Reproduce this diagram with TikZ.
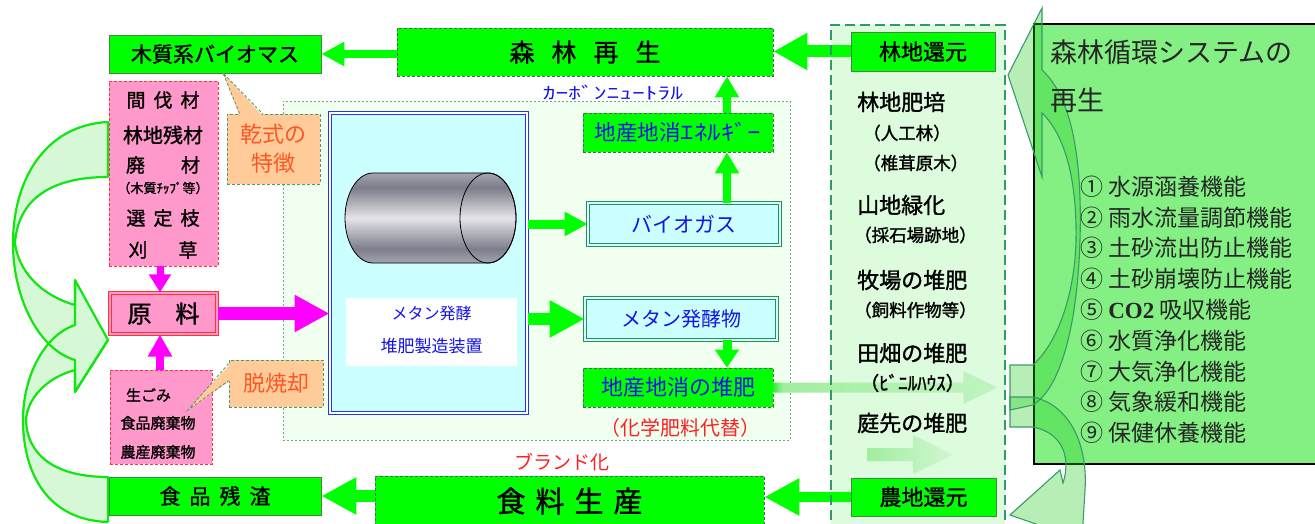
\documentclass[tikz,border=0pt]{standalone}
\usepackage{fontspec}
\usepackage{graphicx}
\setmainfont{Noto Sans CJK JP}
\newfontfamily\gothic{Noto Sans CJK JP}[FakeBold=1.4]
\newfontfamily\latinserif{Liberation Serif}
\usetikzlibrary{arrows.meta,calc}

\newcommand\fsz[1]{\fontsize{#1pt}{#1pt}\selectfont}

\definecolor{leaf}{HTML}{00FF00}
\definecolor{leafedge}{HTML}{3C8C3C}
\definecolor{dashedge}{HTML}{3F6F4F}
\definecolor{pinkfill}{HTML}{FF99CC}
\definecolor{pinkedge}{HTML}{FF3333}
\definecolor{peach}{HTML}{FFCC99}
\definecolor{calloutedge}{HTML}{4A9A70}
\definecolor{warm}{HTML}{FF5522}
\definecolor{ink}{HTML}{1414E6}
\definecolor{alert}{HTML}{FF2020}
\definecolor{aqua}{HTML}{CCFFFF}
\definecolor{plum}{HTML}{FF00FF}
\definecolor{zonefill}{HTML}{F0FFF0}
\definecolor{zoneedge}{HTML}{66AA88}
\definecolor{colfill}{HTML}{DDFBDD}
\definecolor{coledge}{HTML}{339966}
\definecolor{panel}{HTML}{84F084}
\definecolor{swirl}{HTML}{D6F8D6}
\definecolor{swirledge}{HTML}{11E611}
\definecolor{ribbon}{HTML}{22CC22}
\definecolor{ribbonedge}{HTML}{3A9A6A}
\definecolor{tealedge}{HTML}{2E8B57}
\definecolor{appedge}{HTML}{2233FF}
\definecolor{drumA}{HTML}{A5A5AD}
\definecolor{drumB}{HTML}{D5D5DA}
\definecolor{drumC}{HTML}{7E7E8C}
\definecolor{drumD}{HTML}{E4E4E8}
\definecolor{drumE}{HTML}{7C7C8A}
\definecolor{drumF}{HTML}{E8E8EC}
\definecolor{drumG}{HTML}{CDCDD2}
\definecolor{fadeA}{HTML}{B5F5B5}
\definecolor{fadeB}{HTML}{33EE33}
\definecolor{fadeC}{HTML}{A0EEA0}
\definecolor{fadeD}{HTML}{D2F6D2}

% metal drum of the fermenter
\pgfdeclareverticalshading{drum}{100bp}{color(0bp)=(drumA); color(15bp)=(drumB);
  color(33bp)=(drumC); color(50bp)=(drumD); color(67bp)=(drumE);
  color(88bp)=(drumF); color(100bp)=(drumG)}
% compost arrow fading into the field column
\pgfdeclarehorizontalshading{fade}{100bp}{color(0bp)=(fadeA); color(12bp)=(fadeB);
  color(25bp)=(fadeB); color(27bp)=(fadeC); color(100bp)=(fadeD)}

\tikzset{
  solidbox/.style={draw=leafedge, line width=0.8pt, fill=leaf, inner sep=0pt},
  dashbox/.style={draw=dashedge, dash pattern=on 3pt off 2pt, line width=0.7pt, fill=leaf, inner sep=0pt},
  pinkbox/.style={draw=pinkedge, dash pattern=on 3pt off 2pt, line width=0.8pt, fill=pinkfill, inner sep=0pt},
  calloutbox/.style={draw=calloutedge, dash pattern=on 3pt off 2pt, line width=0.8pt, fill=peach,
    inner sep=0pt, text=warm, font=\fontsize{22pt}{29pt}\selectfont, align=center},
  calloutline/.style={draw=calloutedge, dash pattern=on 3pt off 2pt, line width=0.8pt},
  aquabox/.style={draw=tealedge, double=aqua, double distance=1.6pt, line width=0.8pt, fill=aqua,
    inner sep=0pt, text=ink},
  label/.style={inner sep=0pt},
  ribbonfill/.style={fill=ribbon, fill opacity=0.33},
  ribbonline/.style={draw=ribbonedge, line width=1.1pt},
  swirlline/.style={draw=swirledge, line width=2.2pt, line join=round},
}

\begin{document}
\begin{tikzpicture}[x=1pt,y=-1pt]
\useasboundingbox (0,0) rectangle (1315,524);
\clip (0,0) rectangle (1315,524);

% ---- background areas ----
\node[draw=zoneedge, dash pattern=on 2pt off 2pt, line width=0.7pt, fill=zonefill,
  minimum width=507pt, minimum height=339pt, inner sep=0pt] (zone) at (536.5,270.5) {};
\node[fill=colfill, minimum width=174pt, minimum height=510pt, inner sep=0pt] (column) at (918,280) {};
\node[draw=black, line width=1.8pt, fill=panel, minimum width=290pt, minimum height=440pt,
  inner sep=0pt, anchor=north west] (panel) at (1033,23) {};

% ---- twisted return arrows on the right ----
\path[ribbonfill] (1042,70) .. controls (1075,100) and (1082,170) .. (1080,240)
  .. controls (1078,310) and (1065,385) .. (1033,405) -- (1010,410) -- (1010,365) -- (1033,365)
  .. controls (1060,340) and (1075,290) .. (1076,240) .. controls (1077,180) and (1065,135) .. (1042,113)
  -- (1042,177) -- (1008,75) -- (1042,8) -- cycle;
\path[ribbonfill] (1010,397) -- (1033,397) .. controls (1070,405) and (1088,445) .. (1085,490)
  -- (1082,540) -- (1010,515) -- (1060,470) -- (1063,483)
  .. controls (1072,455) and (1060,432) .. (1033,427) -- (1010,427) -- cycle;
\draw[ribbonline] (1042,70) .. controls (1075,100) and (1082,170) .. (1080,240)
  .. controls (1078,310) and (1065,385) .. (1033,405) -- (1010,410) -- (1010,365) -- (1033,365)
  .. controls (1060,340) and (1075,290) .. (1076,240) .. controls (1077,180) and (1065,135) .. (1042,113)
  -- (1042,177) -- (1008,75) -- (1042,8) -- cycle;
\draw[ribbonline] (1010,397) -- (1033,397) .. controls (1070,405) and (1088,445) .. (1085,490)
  -- (1082,540) -- (1010,515) -- (1060,470) -- (1063,483)
  .. controls (1072,455) and (1060,432) .. (1033,427) -- (1010,427) -- cycle;

% ---- twisted feed arrows on the left ----
\fill[swirl] (108,122) .. controls (45,125) and (13,180) .. (13,243) .. controls (13,300) and (40,350) .. (75,360)
  -- (75,392) -- (108,340) -- (75,280) -- (75,305)
  .. controls (40,295) and (18,270) .. (15,243) .. controls (18,200) and (50,177) .. (108,177) -- cycle;
\fill[swirl] (108,522) .. controls (45,520) and (23,470) .. (23,420) .. controls (23,375) and (45,335) .. (75,325)
  -- (75,280) -- (108,340) -- (75,392) -- (75,370)
  .. controls (45,378) and (27,400) .. (26,420) .. controls (27,455) and (55,477) .. (108,477) -- cycle;
\draw[swirlline] (108,122) .. controls (45,125) and (13,180) .. (13,243) .. controls (13,300) and (40,350) .. (75,360)
  -- (75,392) -- (108,340) -- (75,280) -- (75,305)
  .. controls (40,295) and (18,270) .. (15,243) .. controls (18,200) and (50,177) .. (108,177) -- cycle;
\draw[swirlline] (108,522) .. controls (45,520) and (23,470) .. (23,420) .. controls (23,375) and (45,335) .. (75,325)
  -- (75,280) (108,340) -- (75,392) -- (75,370)
  .. controls (45,378) and (27,400) .. (26,420) .. controls (27,455) and (55,477) .. (108,477) -- (108,522);

% ---- top row ----
\node[solidbox, minimum width=212pt, minimum height=38pt, font=\gothic\fsz{21}] (moku) at (215,54) {木質系バイオマス};
\node[dashbox, minimum width=376pt, minimum height=48pt, font=\gothic\fsz{25}] (shinrin) at (585,52)
  {森\hspace{17pt}林\hspace{17pt}再\hspace{17pt}生};
\node[solidbox, minimum width=144pt, minimum height=39pt, font=\gothic\fsz{22}] (rinchi) at (923,51.5) {林地還元};

% ---- raw material column ----
\node[pinkbox, minimum width=109pt, minimum height=185pt] (wood) at (163.5,173.5) {};
\begin{scope}[every node/.append style={label}]
\node[font=\gothic\fsz{19}] (w1) at (163,100) {間\hspace{8pt}伐\hspace{8pt}材};
\node[font=\gothic\fsz{20}] (w2) at (163,135) {林地残材};
\node[font=\gothic\fsz{19}] (w3) at (163,165) {廃\hspace{36pt}材};
\node[font=\gothic\fsz{13}] (w4) at (163,188) {（木質ﾁｯﾌﾟ等）};
\node[font=\gothic\fsz{19}] (w5) at (163,218) {選\hspace{8pt}定\hspace{8pt}枝};
\node[font=\gothic\fsz{19}] (w6) at (163,250) {刈\hspace{31pt}草};
\end{scope}

\node[draw=pinkedge, double=pinkfill, double distance=1.5pt, line width=1.1pt, fill=pinkfill,
  minimum width=107pt, minimum height=41pt, inner sep=0pt, font=\gothic\fsz{24}] (genryo) at (163.5,313.5)
  {原\hspace{24pt}料};

\node[pinkbox, minimum width=102pt, minimum height=94pt] (waste) at (161,417) {};
\node[label, font=\gothic\fsz{15}] (v1) at (148.5,395) {生ごみ};
\node[label, font=\gothic\fsz{15}] (v2) at (158,423) {食品廃棄物};
\node[label, font=\gothic\fsz{15}] (v3) at (158,452) {農産廃棄物};

% ---- callouts ----
\node[calloutbox, minimum width=93pt, minimum height=70pt] (dry) at (273.5,149) {乾式の\\特徴};
\fill[peach] ($(dry.north west)+(13,2)$) -- (223,73) -- ($(dry.north west)+(36,2)$) -- cycle;
\draw[calloutline] ($(dry.north west)+(13,0)$) -- (223,73) -- ($(dry.north west)+(36,0)$);

\node[calloutbox, minimum width=94pt, minimum height=47pt] (noburn) at (276,383.5) {脱焼却};
\fill[peach] ($(noburn.north west)+(2,4)$) -- (188,410) -- ($(noburn.north west)+(2,21)$) -- cycle;
\draw[calloutline] ($(noburn.north west)+(0,4)$) -- (188,410) -- ($(noburn.north west)+(0,21)$);

% ---- fermenter ----
\node[label, text=ink, font=\fsz{17}] (carbon) at (613,93) {\scalebox{1.5}[1]{ｶｰﾎﾞﾝﾆｭｰﾄﾗﾙ}};
\node[draw=appedge, double=white, double distance=1.5pt, line width=1pt, fill=aqua,
  minimum width=197pt, minimum height=300pt, inner sep=0pt] (app) at (428.5,263) {};
\shade[shading=drum, draw=black, line width=0.8pt]
  (373,263) arc[start angle=90, end angle=270, x radius=28, y radius=45] -- (488,173)
  arc[start angle=270, end angle=450, x radius=28, y radius=45] -- cycle;
\draw[black, line width=0.8pt] (488,218) ellipse [x radius=28, y radius=45];
\node[fill=white, minimum width=171pt, minimum height=68pt, inner sep=0pt] (plate) at (431.5,332) {};
\node[label, text=ink, font=\fsz{16}] (plateA) at (431.5,313) {メタン発酵};
\node[label, text=ink, font=\fsz{17}] (plateB) at (431.5,346) {堆肥製造装置};

% ---- products ----
\node[dashbox, minimum width=190pt, minimum height=39pt, text=ink, font=\fsz{21.5}] (energy) at (678,132.5)
  {地産地消\scalebox{1.25}[1]{ｴﾈﾙｷﾞｰ}};
\node[aquabox, minimum width=192pt, minimum height=42pt, font=\fsz{21}] (biogas) at (684,224) {バイオガス};
\node[aquabox, minimum width=192pt, minimum height=42pt, font=\fsz{20}] (methane) at (681,319) {メタン発酵物};
\node[dashbox, minimum width=190pt, minimum height=39pt, text=ink, font=\fsz{22}] (taihi) at (678,387.5) {地産地消の堆肥};
\node[label, text=alert, font=\fsz{20}] (kagaku) at (680,428) {（化学肥料代替）};
\node[label, text=alert, font=\fsz{19}] (brand) at (562,462) {ブランド化};

% ---- bottom row ----
\node[solidbox, minimum width=212pt, minimum height=38pt, font=\gothic\fsz{21}] (zanshi) at (215,496)
  {食\hspace{9pt}品\hspace{9pt}残\hspace{9pt}渣};
\node[dashbox, minimum width=389pt, minimum height=50pt, font=\gothic\fsz{29}] (shokuryo) at (569.5,501)
  {食\hspace{10pt}料\hspace{10pt}生\hspace{10pt}産};
\node[solidbox, minimum width=145pt, minimum height=38pt, font=\gothic\fsz{22}] (nouchi) at (923.5,497) {農地還元};

% ---- compost spreading arrows ----
\shade[shading=fade] ($(taihi.east)+(0,-5)$) -- ++(190,0) -- ++(0,-11.5) -- ++(34,16.5) -- ++(-34,16.5)
  -- ++(0,-11.5) -- ($(taihi.east)+(0,5)$) -- cycle;
\shade[left color=fadeC, right color=fadeD] (867,448) -- (913,448) -- (913,435) -- (953,455)
  -- (913,474) -- (913,461) -- (867,461) -- cycle;

% ---- flow arrows ----
\coordinate (upx) at (727,0);
\coordinate (dnx) at (160,0);
\draw[leaf, line width=12pt, -{Triangle[length=34pt,width=35pt]}] (rinchi.west) -- (shinrin.east |- rinchi.west);
\draw[leaf, line width=8pt, -{Triangle[length=23pt,width=23pt]}] (shinrin.west |- moku.east) -- (moku.east);
\draw[leaf, line width=12pt, -{Triangle[length=35pt,width=35pt]}] (shokuryo.west |- zanshi.east) -- (zanshi.east);
\draw[leaf, line width=10pt, -{Triangle[length=35pt,width=35pt]}] (nouchi.west) -- (shokuryo.east |- nouchi.west);
\draw[leaf, line width=9pt, -{Triangle[length=23pt,width=23pt]}] (app.east |- biogas.west) -- (biogas.west);
\draw[leaf, line width=12pt, -{Triangle[length=35pt,width=35pt]}] (app.east |- methane.west) -- (methane.west);
\draw[leaf, line width=8pt, -{Triangle[length=21pt,width=23pt]}] (biogas.north -| upx) -- (energy.south -| upx);
\draw[leaf, line width=8pt, -{Triangle[length=21pt,width=23pt]}] (energy.north -| upx) -- (shinrin.south -| upx);
\draw[leaf, line width=9pt, -{Triangle[length=18pt,width=23pt]}] (methane.south -| upx) -- (taihi.north -| upx);
\draw[plum, line width=13pt, -{Triangle[length=35pt,width=35pt]}] (genryo.east) -- (app.west |- genryo.east);
\draw[plum, line width=7pt, -{Triangle[length=18pt,width=21pt]}] (wood.south -| dnx) -- (genryo.north -| dnx);
\draw[plum, line width=8pt, -{Triangle[length=22pt,width=23pt]}] (waste.north -| dnx) -- (genryo.south -| dnx);

% ---- field column ----
\draw[coledge, line width=2.5pt, dash pattern=on 10pt off 5pt] (column.south west) rectangle (column.north east);
\begin{scope}[every node/.append style={label, anchor=west}]
\node[font=\gothic\fsz{22}] (r1) at (857,102) {林地肥培};
\node[font=\gothic\fsz{17.5}] (r2) at (863,133) {（人工林）};
\node[font=\gothic\fsz{17.5}] (r3) at (863,163) {（椎茸原木）};
\node[font=\gothic\fsz{22}] (r4) at (857,205) {山地緑化};
\node[font=\gothic\fsz{17.5}] (r5) at (854,235) {（採石場跡地）};
\node[font=\gothic\fsz{22}] (r6) at (857,280) {牧場の堆肥};
\node[font=\gothic\fsz{17.5}] (r7) at (854,310) {（飼料作物等）};
\node[font=\gothic\fsz{22}] (r8) at (857,353) {田畑の堆肥};
\node[font=\gothic\fsz{19}] (r9) at (860,383) {（ﾋﾞﾆﾙﾊｳｽ）};
\node[font=\gothic\fsz{22}] (r10) at (857,423) {庭先の堆肥};
\end{scope}

% ---- forest functions ----
\node[label, anchor=west, font=\fsz{27}, text=black!85] (t1) at (1050,52) {森林循環システムの};
\node[label, anchor=west, font=\fsz{27}, text=black!85] (t2) at (1050,100) {再生};
\begin{scope}[every node/.style={label, anchor=west, font=\fsz{23}, text=black!85}]
\node (f1) at (1080,187) {①\ 水源涵養機能};
\node (f2) at (1080,218) {②\ 雨水流量調節機能};
\node (f3) at (1080,248) {③\ 土砂流出防止機能};
\node (f4) at (1080,279) {④\ 土砂崩壊防止機能};
\node (f5) at (1080,310) {⑤\ {\latinserif\bfseries CO2} 吸収機能};
\node (f6) at (1080,341) {⑥\ 水質浄化機能};
\node (f7) at (1080,372) {⑦\ 大気浄化機能};
\node (f8) at (1080,402) {⑧\ 気象緩和機能};
\node (f9) at (1080,433) {⑨\ 保健休養機能};
\end{scope}
\end{tikzpicture}
\end{document}
